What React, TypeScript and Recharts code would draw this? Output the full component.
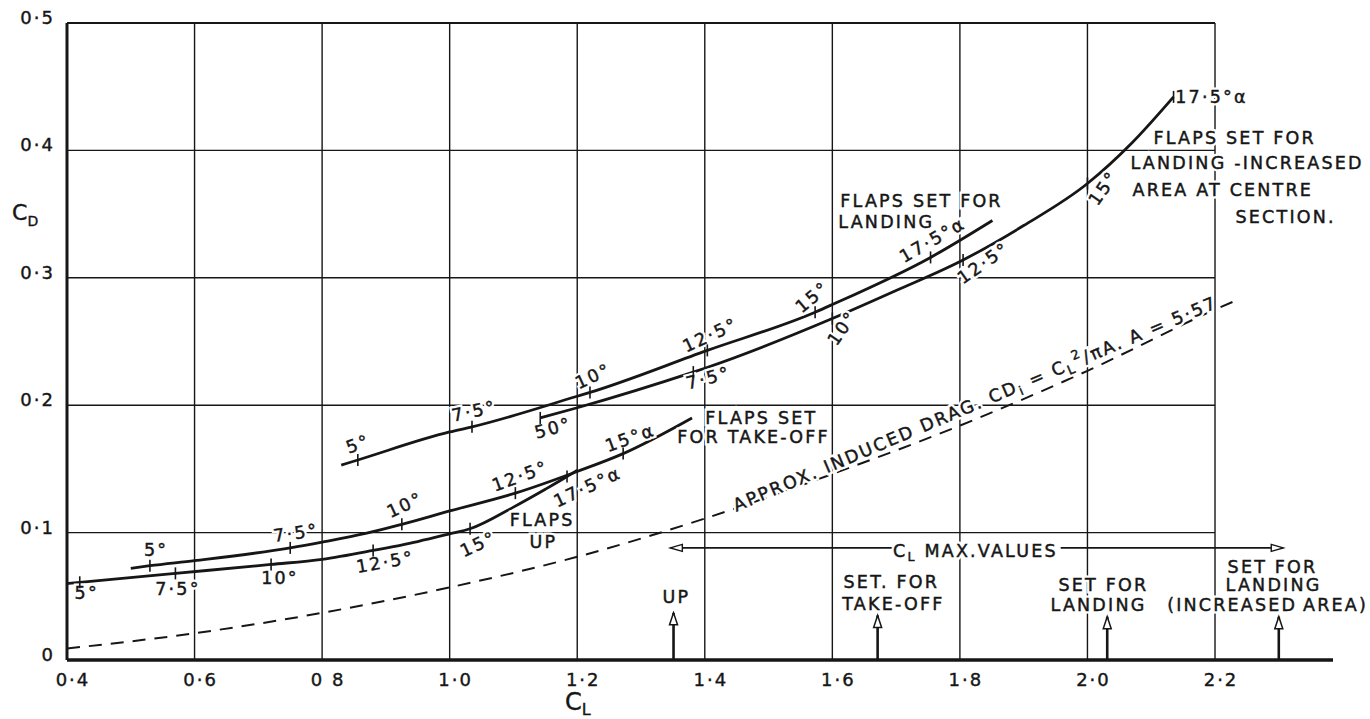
import React from "react";
import { ComposedChart, XAxis, YAxis, Line, Scatter, ReferenceLine } from "recharts";

const INK = "#161616";
const FONT = "'DejaVu Sans', Verdana, sans-serif";

// axis ticks
const xTicks = [0.4, 0.6, 0.8, 1.0, 1.2, 1.4, 1.6, 1.8, 2.0, 2.2];
const xTickLabels = ["0·4", "0·6", "0 8", "1·0", "1·2", "1·4", "1·6", "1·8", "2·0", "2·2"];
const yTicks = [0, 0.1, 0.2, 0.3, 0.4, 0.5];
const yTickLabels = ["0", "0·1", "0·2", "0·3", "0·4", "0·5"];

// CD against CL
const flapsUp = [
  { x: 0.4, y: 0.06 }, { x: 0.42, y: 0.061 }, { x: 0.57, y: 0.068 }, { x: 0.72, y: 0.075 },
  { x: 0.8, y: 0.079 }, { x: 0.88, y: 0.086 }, { x: 0.95, y: 0.093 }, { x: 1.0, y: 0.099 },
  { x: 1.032, y: 0.103 }, { x: 1.1, y: 0.12 }, { x: 1.15, y: 0.134 }, { x: 1.184, y: 0.144 },
  { x: 1.2, y: 0.149 },
];
const takeOff = [
  { x: 0.5, y: 0.072 }, { x: 0.53, y: 0.074 }, { x: 0.6, y: 0.078 }, { x: 0.75, y: 0.088 },
  { x: 0.8, y: 0.0925 }, { x: 0.87, y: 0.0995 }, { x: 0.925, y: 0.1065 }, { x: 1.0, y: 0.117 },
  { x: 1.103, y: 0.131 }, { x: 1.2, y: 0.148 }, { x: 1.272, y: 0.162 }, { x: 1.38, y: 0.19 },
];
const landing = [
  { x: 0.83, y: 0.153 }, { x: 0.856, y: 0.157 }, { x: 1.0, y: 0.179 }, { x: 1.035, y: 0.183 },
  { x: 1.2, y: 0.207 }, { x: 1.22, y: 0.21 }, { x: 1.404, y: 0.243 }, { x: 1.573, y: 0.273 },
  { x: 1.6, y: 0.279 }, { x: 1.754, y: 0.316 }, { x: 1.851, y: 0.345 },
];
const landingIncreased = [
  { x: 1.142, y: 0.19 }, { x: 1.2, y: 0.198 }, { x: 1.382, y: 0.226 }, { x: 1.4, y: 0.229 },
  { x: 1.6, y: 0.268 }, { x: 1.7, y: 0.29 }, { x: 1.805, y: 0.314 }, { x: 1.9, y: 0.341 },
  { x: 2.0, y: 0.374 }, { x: 2.07, y: 0.406 }, { x: 2.135, y: 0.442 },
];
const inducedDrag = [
  { x: 0.4, y: 0.009 }, { x: 0.6, y: 0.021 }, { x: 0.8, y: 0.037 }, { x: 1.0, y: 0.057 },
  { x: 1.2, y: 0.081 }, { x: 1.4, y: 0.111 }, { x: 1.6, y: 0.146 }, { x: 1.8, y: 0.184 },
  { x: 2.0, y: 0.227 }, { x: 2.2, y: 0.275 }, { x: 2.232, y: 0.282 },
];

// incidence marks on the curves
const flapsUpMarks = [
  { x: 0.42, y: 0.061 }, { x: 0.57, y: 0.068 }, { x: 0.72, y: 0.075 },
  { x: 0.88, y: 0.086 }, { x: 1.032, y: 0.103 }, { x: 1.184, y: 0.144 },
];
const takeOffMarks = [
  { x: 0.53, y: 0.074 }, { x: 0.75, y: 0.088 }, { x: 0.925, y: 0.1065 },
  { x: 1.103, y: 0.131 }, { x: 1.272, y: 0.162 },
];
const landingMarks = [
  { x: 0.856, y: 0.157 }, { x: 1.035, y: 0.183 }, { x: 1.22, y: 0.21 },
  { x: 1.404, y: 0.243 }, { x: 1.573, y: 0.273 }, { x: 1.754, y: 0.316 },
];
const increasedMarks = [
  { x: 1.142, y: 0.19 }, { x: 1.382, y: 0.226 }, { x: 1.6, y: 0.268 },
  { x: 1.805, y: 0.314 }, { x: 2.0, y: 0.374 }, { x: 2.135, y: 0.442 },
];

// CL max arrows
const arrowUp = [{ x: 1.351, y: 0 }, { x: 1.351, y: 0.037 }];
const arrowTakeOff = [{ x: 1.671, y: 0 }, { x: 1.671, y: 0.035 }];
const arrowLanding = [{ x: 2.031, y: 0 }, { x: 2.031, y: 0.034 }];
const arrowIncreased = [{ x: 2.3, y: 0 }, { x: 2.3, y: 0.034 }];
const clMaxLeft = [{ x: 1.346, y: 0.088 }, { x: 1.702, y: 0.088 }];
const clMaxRight = [{ x: 1.958, y: 0.088 }, { x: 2.307, y: 0.088 }];

// text notes (r = rotation, a = anchor)
const notes = [
  { x: 0.431, y: 0.0526, t: "5°" },
  { x: 0.574, y: 0.0557, t: "7·5°" },
  { x: 0.734, y: 0.0644, t: "10°" },
  { x: 0.899, y: 0.0769, t: "12·5°", r: -10 },
  { x: 1.045, y: 0.091, t: "15°", r: -25 },
  { x: 1.216, y: 0.1358, t: "17·5°α", r: -25 },
  { x: 1.145, y: 0.1095, t: "FLAPS" },
  { x: 1.147, y: 0.093, t: "UP" },
  { x: 0.5396, y: 0.0863, t: "5°" },
  { x: 0.759, y: 0.0997, t: "7·5°", r: -8 },
  { x: 0.93, y: 0.1217, t: "10°", r: -25 },
  { x: 1.1106, y: 0.1444, t: "12·5°", r: -20 },
  { x: 1.283, y: 0.1743, t: "15°α", r: -20 },
  { x: 1.4008, y: 0.19, t: "FLAPS SET", a: "start" },
  { x: 1.357, y: 0.175, t: "FOR TAKE-OFF", a: "start" },
  { x: 0.8565, y: 0.1695, t: "5°", r: -20 },
  { x: 1.0384, y: 0.1954, t: "7·5°", r: -12 },
  { x: 1.225, y: 0.2229, t: "10°", r: -25 },
  { x: 1.4086, y: 0.2551, t: "12·5°", r: -25 },
  { x: 1.5686, y: 0.2849, t: "15°", r: -40 },
  { x: 1.757, y: 0.3297, t: "17·5°α", r: -30 },
  { x: 1.6125, y: 0.3603, t: "FLAPS SET FOR", a: "start" },
  { x: 1.6094, y: 0.3438, t: "LANDING", a: "start" },
  { x: 1.1624, y: 0.1821, t: "50°", r: -15 },
  { x: 1.4055, y: 0.2214, t: "7·5°", r: -15 },
  { x: 1.6157, y: 0.2606, t: "10°", r: -55 },
  { x: 1.8369, y: 0.3116, t: "12·5°", r: -35 },
  { x: 2.025, y: 0.3705, t: "15°", r: -55 },
  { x: 2.1945, y: 0.4419, t: "17·5°α" },
  { x: 2.1035, y: 0.4097, t: "FLAPS SET FOR", a: "start" },
  { x: 2.0675, y: 0.3901, t: "LANDING -INCREASED", a: "start" },
  { x: 2.0706, y: 0.3689, t: "AREA AT CENTRE", a: "start" },
  { x: 2.2322, y: 0.3477, t: "SECTION.", a: "start" },
  { x: 1.824, y: 0.201, t: "APPROX. INDUCED DRAG.  CD_i = C_L^2/πA.   A = 5·57", r: -23 },
  { x: 1.8243, y: 0.0856, t: "C_L MAX.VALUES" },
  { x: 1.3553, y: 0.0494, t: "UP" },
  { x: 1.6925, y: 0.0612, t: "SET. FOR" },
  { x: 1.6957, y: 0.044, t: "TAKE-OFF" },
  { x: 2.025, y: 0.0589, t: "SET  FOR" },
  { x: 2.0173, y: 0.0432, t: "LANDING" },
  { x: 2.2902, y: 0.073, t: "SET  FOR" },
  { x: 2.2918, y: 0.0589, t: "LANDING" },
  { x: 2.2824, y: 0.0432, t: "(INCREASED\u2009AREA)" },
];

// "_x" = subscript, "^x" = superscript
function richText(t: string, fs: number) {
  const parts: React.ReactNode[] = [];
  let buf = "";
  let pend = 0;
  let k = 0;
  const flush = () => {
    if (buf) {
      parts.push(<tspan key={k++} dy={pend || undefined}>{buf}</tspan>);
      buf = "";
      pend = 0;
    }
  };
  for (let i = 0; i < t.length; i++) {
    const c = t[i];
    if ((c === "_" || c === "^") && i + 1 < t.length) {
      flush();
      const s = c === "_" ? fs * 0.3 : -fs * 0.4;
      parts.push(<tspan key={k++} dy={s + pend} fontSize={fs * 0.72}>{t[i + 1]}</tspan>);
      pend = -s;
      i++;
    } else buf += c;
  }
  flush();
  return parts;
}

const NoteShape = (p: any) => {
  const n = p.payload;
  const fs = 17.5;
  const common = {
    x: p.cx,
    y: p.cy,
    transform: n.r ? `rotate(${n.r} ${p.cx} ${p.cy})` : undefined,
    textAnchor: n.a === "start" ? ("start" as const) : ("middle" as const),
    dominantBaseline: "central" as const,
    fontSize: fs,
    fontFamily: FONT,
    letterSpacing: 2.2,
  };
  return (
    <g>
      <text {...common} fill="#fff" stroke="#fff" strokeWidth={5}>
        {richText(n.t, fs)}
      </text>
      <text {...common} fill={INK} stroke={INK} strokeWidth={0.45}>
        {richText(n.t, fs)}
      </text>
    </g>
  );
};

const MarkShape = (p: any) => (
  <line x1={p.cx} x2={p.cx} y1={p.cy - 6} y2={p.cy + 6} stroke={INK} strokeWidth={1.6} />
);

const headUp = (p: any) =>
  p.index === 1 ? (
    <polygon key={p.index} points={`${p.cx},${p.cy} ${p.cx - 4},${p.cy + 12} ${p.cx + 4},${p.cy + 12}`} fill="#fff" stroke={INK} strokeWidth={1.5} />
  ) : (
    <g key={p.index} />
  );
const headLeft = (p: any) =>
  p.index === 0 ? (
    <polygon key={p.index} points={`${p.cx},${p.cy} ${p.cx + 12},${p.cy - 3.5} ${p.cx + 12},${p.cy + 3.5}`} fill="#fff" stroke={INK} strokeWidth={1.4} />
  ) : (
    <g key={p.index} />
  );
const headRight = (p: any) =>
  p.index === 1 ? (
    <polygon key={p.index} points={`${p.cx},${p.cy} ${p.cx - 12},${p.cy - 3.5} ${p.cx - 12},${p.cy + 3.5}`} fill="#fff" stroke={INK} strokeWidth={1.4} />
  ) : (
    <g key={p.index} />
  );

const XTick = (p: any) => {
  const i = xTicks.findIndex((v) => Math.abs(v - p.payload.value) < 1e-6);
  return (
    <text x={p.x + 6} y={p.y + 16} textAnchor="middle" fontSize={18} fontFamily={FONT} fill={INK} stroke={INK} strokeWidth={0.4} letterSpacing={2}>
      {xTickLabels[i]}
    </text>
  );
};
const YTick = (p: any) => {
  const i = yTicks.findIndex((v) => Math.abs(v - p.payload.value) < 1e-6);
  return (
    <text x={p.x} y={p.y + 1} textAnchor="end" fontSize={18} fontFamily={FONT} fill={INK} stroke={INK} strokeWidth={0.4} letterSpacing={2}>
      {yTickLabels[i]}
    </text>
  );
};

const gridX = [0.6, 0.8, 1.0, 1.2, 1.4, 1.6, 1.8, 2.0, 2.2];
const gridY = [0.1, 0.2, 0.3, 0.4, 0.5];

export default function App() {
  const curve = { type: "monotone" as const, dataKey: "y", dot: false, stroke: INK, strokeWidth: 2.8, isAnimationActive: false };
  const arrow = { type: "linear" as const, dataKey: "y", stroke: INK, strokeWidth: 2.6, isAnimationActive: false };
  return (
    <div style={{ position: "absolute", left: 0, top: 0, background: "#fff" }}>
      <ComposedChart width={1370} height={719} margin={{ top: 23, right: 37, bottom: 0, left: 0 }}>
        <XAxis
          type="number"
          dataKey="x"
          domain={[0.4, 2.385]}
          ticks={xTicks}
          interval={0}
          tickLine={false}
          tickMargin={4}
          height={59}
          axisLine={{ stroke: INK, strokeWidth: 3.5 }}
          tick={XTick}
          label={{
            content: (props: any) => {
              const vb = props.viewBox;
              return (
                <text x={vb.x + vb.width * 0.4035} y={vb.y + 50} textAnchor="middle" fontSize={24} fontFamily={FONT} fill={INK} stroke={INK} strokeWidth={0.4}>
                  C<tspan fontSize={16} dy={5}>L</tspan>
                </text>
              );
            },
          }}
        />
        <YAxis
          type="number"
          dataKey="y"
          domain={[0, 0.5]}
          ticks={yTicks}
          interval={0}
          tickLine={false}
          tickMargin={6}
          width={67}
          axisLine={{ stroke: INK, strokeWidth: 3 }}
          tick={YTick}
          label={{
            content: (props: any) => {
              const vb = props.viewBox;
              return (
                <text x={vb.x + 12} y={vb.y + vb.height * 0.31} fontSize={22} fontFamily={FONT} fill={INK} stroke={INK} strokeWidth={0.4}>
                  C<tspan fontSize={14} dy={6}>D</tspan>
                </text>
              );
            },
          }}
        />
        {gridX.map((v) => (
          <ReferenceLine key={`gx${v}`} x={v} stroke={INK} strokeWidth={1.4} />
        ))}
        {gridY.map((v) => (
          <ReferenceLine
            key={`gy${v}`}
            segment={[{ x: 0.4, y: v }, { x: 2.2, y: v }]}
            stroke={INK}
            strokeWidth={v === 0.5 ? 2 : 1.4}
          />
        ))}
        <Scatter data={notes} shape={NoteShape} isAnimationActive={false} />
        <Line data={inducedDrag} {...curve} strokeWidth={2} strokeDasharray="13 9" />
        <Line data={flapsUp} {...curve} />
        <Line data={takeOff} {...curve} />
        <Line data={landing} {...curve} />
        <Line data={landingIncreased} {...curve} />
        <Scatter data={flapsUpMarks} shape={MarkShape} isAnimationActive={false} />
        <Scatter data={takeOffMarks} shape={MarkShape} isAnimationActive={false} />
        <Scatter data={landingMarks} shape={MarkShape} isAnimationActive={false} />
        <Scatter data={increasedMarks} shape={MarkShape} isAnimationActive={false} />
        <Line data={arrowUp} {...arrow} dot={headUp} />
        <Line data={arrowTakeOff} {...arrow} dot={headUp} />
        <Line data={arrowLanding} {...arrow} dot={headUp} />
        <Line data={arrowIncreased} {...arrow} dot={headUp} />
        <Line data={clMaxLeft} {...arrow} strokeWidth={1.6} dot={headLeft} />
        <Line data={clMaxRight} {...arrow} strokeWidth={1.6} dot={headRight} />
      </ComposedChart>
    </div>
  );
}
